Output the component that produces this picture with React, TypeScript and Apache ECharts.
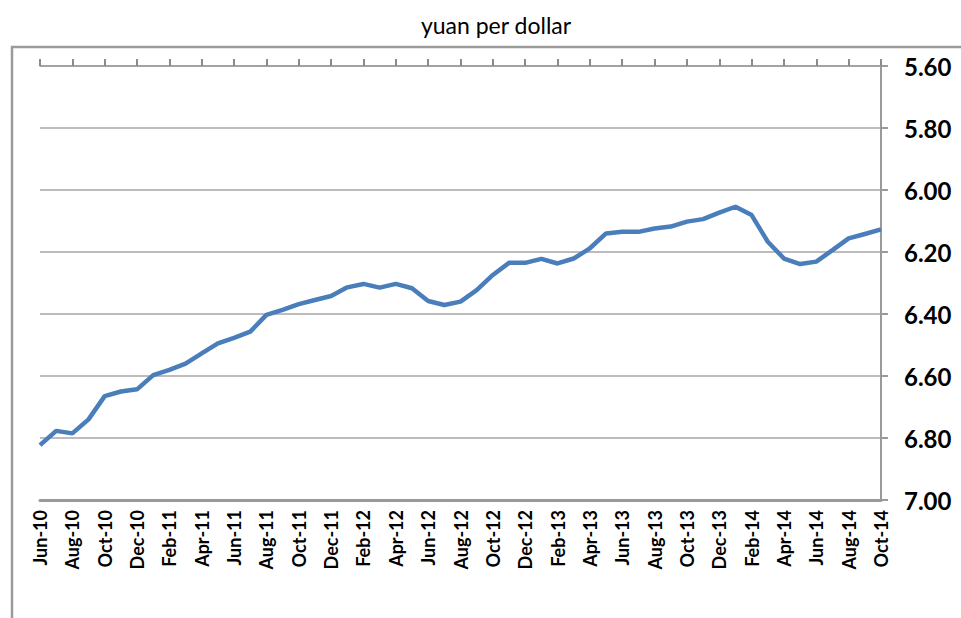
import React, { useEffect, useRef } from "react";
import * as echarts from "echarts";

const months: string[] = [
  "Jun-10","Jul-10","Aug-10","Sep-10","Oct-10","Nov-10","Dec-10",
  "Jan-11","Feb-11","Mar-11","Apr-11","May-11","Jun-11","Jul-11","Aug-11","Sep-11","Oct-11","Nov-11","Dec-11",
  "Jan-12","Feb-12","Mar-12","Apr-12","May-12","Jun-12","Jul-12","Aug-12","Sep-12","Oct-12","Nov-12","Dec-12",
  "Jan-13","Feb-13","Mar-13","Apr-13","May-13","Jun-13","Jul-13","Aug-13","Sep-13","Oct-13","Nov-13","Dec-13",
  "Jan-14","Feb-14","Mar-14","Apr-14","May-14","Jun-14","Jul-14","Aug-14","Sep-14","Oct-14",
];

const yuanPerDollar: number[] = [
  6.823, 6.777, 6.785, 6.74, 6.665, 6.65, 6.643,
  6.597, 6.58, 6.56, 6.527, 6.495, 6.477, 6.457, 6.403, 6.387, 6.368, 6.355, 6.342,
  6.314, 6.303, 6.315, 6.303, 6.317, 6.358, 6.371, 6.36, 6.323, 6.274, 6.235, 6.235,
  6.222, 6.237, 6.221, 6.188, 6.14, 6.135, 6.135, 6.124, 6.118, 6.102, 6.094, 6.073,
  6.054, 6.081, 6.167, 6.221, 6.239, 6.231, 6.194, 6.156, 6.142, 6.127,
];

const yMin = 5.6;
const yMax = 7.0;
const yStep = 0.2;
const title = "yuan per dollar";

export default function App() {
  const ref = useRef<HTMLDivElement>(null);
  useEffect(() => {
    if (!ref.current) return;
    const chart = echarts.init(ref.current, null, { renderer: "svg" });
    chart.setOption({
      animation: false,
      backgroundColor: "#ffffff",
      title: {
        text: title,
        left: 491,
        textAlign: "center",
        top: 8,
        textStyle: { fontFamily: "Lato", fontSize: 23, fontWeight: "normal", color: "#000" },
      },
      graphic: [
        {
          type: "rect",
          shape: { x: 12, y: 47, width: 1000, height: 700 },
          style: { fill: "none", stroke: "#9a9a9a", lineWidth: 2.5 },
          silent: true,
          z: -1,
        },
      ],
      grid: { left: 40, right: 80, top: 66, bottom: 118, containLabel: false },
      xAxis: [
        {
          type: "category",
          data: months,
          position: "top",
          boundaryGap: false,
          axisLine: { show: true, lineStyle: { color: "#9a9a9a", width: 1.5 } },
          axisTick: { show: true, interval: 1, length: 7, inside: false, lineStyle: { color: "#8a8a8a", width: 2 } },
          axisLabel: { show: false },
          splitLine: { show: false },
        },
        {
          type: "category",
          data: months,
          position: "bottom",
          boundaryGap: false,
          axisLine: { show: true, onZero: false, lineStyle: { color: "#9a9a9a", width: 3 } },
          axisTick: { show: false },
          axisLabel: {
            interval: 1,
            rotate: 90,
            margin: 10,
            fontFamily: "Lato",
            fontWeight: "bold",
            fontSize: 18,
            color: "#000",
          },
          splitLine: { show: false },
        },
      ],
      yAxis: {
        type: "value",
        position: "right",
        inverse: true,
        min: yMin,
        max: yMax,
        interval: yStep,
        axisLine: { show: true, lineStyle: { color: "#9a9a9a", width: 2 } },
        axisTick: { show: true, length: 7, inside: false, lineStyle: { color: "#9a9a9a", width: 2 } },
        axisLabel: {
          margin: 23,
          fontFamily: "Lato",
          fontWeight: "bold",
          fontSize: 24,
          color: "#000",
          formatter: (v: number) => v.toFixed(2),
        },
        splitLine: { show: true, lineStyle: { color: "#a6a6a6", width: 1.5 } },
      },
      series: [
        {
          type: "line",
          data: yuanPerDollar,
          xAxisIndex: 1,
          showSymbol: false,
          symbol: "none",
          lineStyle: { color: "#4a7ebb", width: 4.5 },
        },
      ],
    });
    return () => chart.dispose();
  }, []);
  return <div ref={ref} style={{ position: "fixed", left: 0, top: 0, width: 961, height: 618 }} />;
}
